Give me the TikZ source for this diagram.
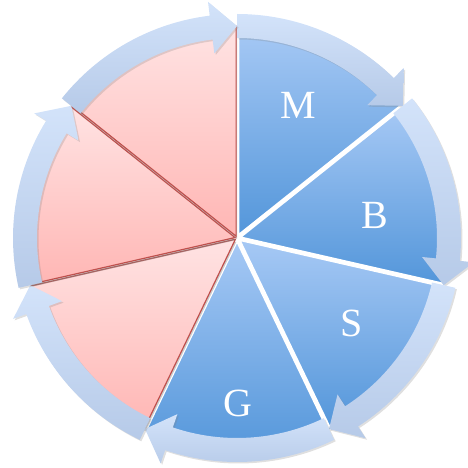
\documentclass[tikz,border=0pt]{standalone}
\usepackage{fontspec}
\setmainfont{Liberation Serif}
\usepackage{xcolor}
\usepackage{tikz}
\usetikzlibrary{shadows}
\definecolor{segblue}{HTML}{A7C9F5}
\definecolor{segbluedark}{HTML}{5396DA}
\definecolor{segpink}{HTML}{FFE3E3}
\definecolor{segpinkdark}{HTML}{FFB6B4}
\definecolor{segred}{HTML}{C0504D}
\definecolor{ringtop}{HTML}{D3E3FA}
\definecolor{ringbot}{HTML}{B6CAE8}

\begin{document}
\begin{tikzpicture}[x=1pt, y=1pt,
    bluepart/.style={top color=segblue, bottom color=segbluedark, draw=white, line width=3pt,
                     drop shadow={opacity=0.35, shadow xshift=1pt, shadow yshift=-2pt}},
    pinkpart/.style={top color=segpink, bottom color=segpinkdark, draw=segred, line width=1.2pt,
                     drop shadow={opacity=0.4, shadow xshift=1pt, shadow yshift=-2.5pt}},
    ringarrow/.style={top color=ringtop, bottom color=ringbot,
                      drop shadow={opacity=0.25, shadow xshift=1.5pt, shadow yshift=-1.5pt}},
    letter/.style={text=white, font=\fontsize{40}{42}\selectfont}]
  \useasboundingbox (-237,-230) rectangle (230,238);
  % seven wedges, clockwise from the top, pulled apart a little
  \foreach \k in {0,...,6} {
    \pgfmathsetmacro{\segA}{90-\k*360/7}
    \pgfmathsetmacro{\segB}{90-(\k+1)*360/7}
    \pgfmathsetmacro{\segM}{90-(\k+0.5)*360/7}
    \ifnum\k<4
      \path[bluepart, shift={(\segM:2)}] (0,0) -- (\segA:210) arc[start angle=\segA, end angle=\segB, radius=210] -- cycle;
    \else
      \path[pinkpart, shift={(\segM:2)}] (0,0) -- (\segA:210) arc[start angle=\segA, end angle=\segB, radius=210] -- cycle;
    \fi
  }
  % curved arrows round the rim
  \foreach \k in {0,...,6} {
    \pgfmathsetmacro{\segA}{90-\k*360/7}
    \pgfmathsetmacro{\segB}{90-(\k+1)*360/7}
    \pgfmathsetmacro{\headang}{\segB+7}
    \path[ringarrow] (\segA:200) arc[start angle=\segA, end angle=\headang, radius=200]
      -- (\headang:186) -- (\segB:212) -- (\headang:238) -- (\headang:224)
      arc[start angle=\headang, end angle=\segA, radius=224] -- cycle;
  }
  \node[letter] (m) at (61,133) {M};
  \node[letter] (b) at (138,23) {B};
  \node[letter] (s) at (115,-85) {S};
  \node[letter] (g) at (1,-165) {G};
\end{tikzpicture}
\end{document}
